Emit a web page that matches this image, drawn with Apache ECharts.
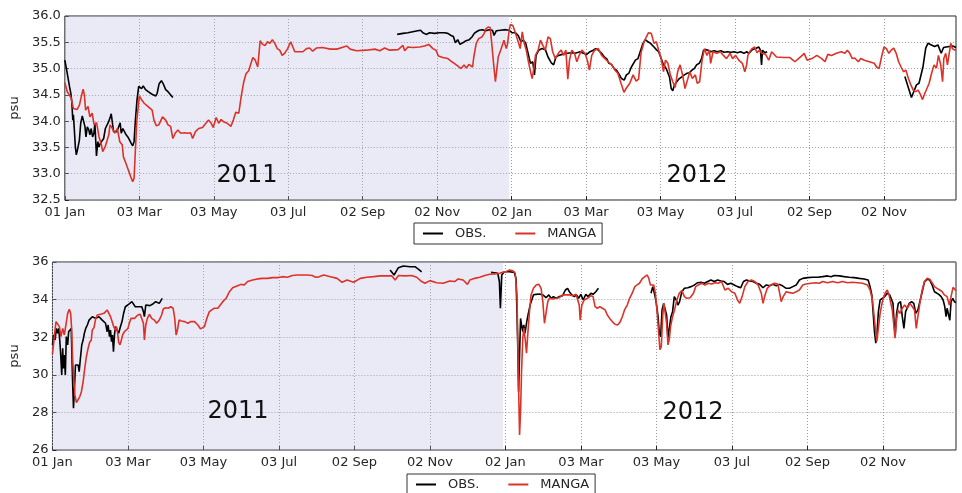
<!DOCTYPE html>
<html>
<head>
<meta charset="utf-8">
<script src="https://cdn.jsdelivr.net/npm/echarts@6/dist/echarts.min.js"></script>
<style>
  html, body { margin: 0; padding: 0; background: #ffffff; }
  #chart { width: 962px; height: 493px; }
</style>
</head>
<body>
<div id="chart"></div>
<script>
// Days counted from 01 Jan 2011; ticks every 61 days.
const tickLabels = ['01 Jan', '03 Mar', '03 May', '03 Jul', '02 Sep', '02 Nov',
                    '02 Jan', '03 Mar', '03 May', '03 Jul', '02 Sep', '02 Nov'];
const tickStep = 61;
const dayMax = 730;
const firstYearEnd = 364;
const yearLabels = ['2011', '2012'];
const seriesNames = ['OBS.', 'MANGA'];

// Upper panel: surface salinity (psu)
const obsTopA = [[0,35.16],[1.3,35.0],[2.7,34.97],[3.8,34.66],[4.9,34.53],[5.7,34.37],[6.5,34.02],[7,34.12],[7.8,33.83],[8.6,33.51],[9.4,33.36],[10.3,33.45],[11,33.42],[11.9,33.64],[13,33.96],[14.3,34.1],[15.7,34.08],[16.5,33.89],[17.3,33.7],[18.4,33.89],[19.7,33.83],[20.5,33.74],[21.6,33.86],[22.7,33.7],[23.8,33.77],[24.6,33.96],[25.4,33.58],[25.9,33.34],[27,33.61],[28,33.51],[29.1,33.58],[30.5,33.55],[31.8,33.67],[33.2,33.86],[34.5,33.89],[35.9,33.99],[37.2,34.08],[38,34.14],[39,33.96],[39.9,33.8],[41.3,33.83],[42.6,33.8],[44,33.8],[45.3,33.97],[46.2,33.77],[47.5,33.86],[48.9,33.83],[50.2,33.74],[51.6,33.7],[52.9,33.67],[54.3,33.58],[55.6,33.53],[56.7,33.61],[57.8,34.02],[59.1,34.4],[60.5,34.66],[61.5,34.64],[62.9,34.62],[64.2,34.67],[66.1,34.6],[68.3,34.56],[70.2,34.53],[72.3,34.5],[74.5,34.48],[75.6,34.53],[77.2,34.71],[79.1,34.77],[80.4,34.72],[82.6,34.6],[84.5,34.56],[86.6,34.5],[88.5,34.45]];
const obsTopB = [[272.2,35.65],[277,35.67],[281,35.68],[285,35.7],[289,35.72],[291.4,35.73],[293.3,35.68],[296,35.65],[298.8,35.68],[302.8,35.67],[306.9,35.68],[311,35.68],[313.7,35.67],[316.4,35.63],[318.3,35.61],[319.9,35.49],[321.8,35.55],[323.7,35.46],[325.9,35.49],[328.6,35.53],[331.3,35.55],[333.5,35.6],[335.4,35.67],[337.2,35.7],[339.4,35.73],[342,35.74],[344.8,35.72],[347.6,35.74],[350.3,35.73],[351.6,35.63],[353.5,35.72],[357,35.73],[361,35.74],[363.8,35.73],[366.5,35.68],[369.2,35.68],[371.4,35.63],[373.6,35.51],[375.5,35.54],[377.4,35.49],[379.5,35.29],[381.4,35.1],[383.3,35.13],[384.7,34.88],[386,35.25],[388.2,35.35],[390.9,35.38],[393.6,35.36],[395.8,35.22],[397.2,35.25],[398.5,35.11],[400.4,35.07],[402.3,35.22],[404.5,35.25],[407.2,35.27],[411.2,35.29],[415.3,35.3],[418,35.29],[422.1,35.32],[424.8,35.29],[427.5,35.27],[430.2,35.32],[432.9,35.35],[434.8,35.38],[437,35.35],[439.7,35.29],[441.9,35.22],[443.8,35.19],[445.7,35.1],[447.8,35.08],[450,35.0],[451.9,34.97],[454.1,34.89],[456,34.81],[458.2,34.78],[460,34.88],[462,34.91],[464.1,35.03],[465.5,35.0],[467.4,35.16],[469.5,35.19],[471.7,35.35],[473.6,35.48],[475.5,35.55],[477.7,35.51],[479.8,35.48],[482.6,35.41],[484.5,35.36],[486.4,35.32],[488.5,35.19],[489.9,35.1],[491.3,35.13],[492.6,35.0],[494,35.03],[495.3,34.84],[496.7,34.62],[498,34.58],[499.4,34.69],[501.3,34.75],[503.4,34.81],[505.3,34.84],[507.5,34.88],[509.7,34.91],[511.6,34.92],[513.7,34.97],[515.6,35.0],[517.5,35.07],[519.7,35.1],[521.6,35.19],[523.2,35.35],[525.1,35.36],[527,35.35],[529.2,35.32],[531.9,35.34],[534.6,35.32],[537.3,35.34],[540,35.31],[542.7,35.32],[545.5,35.31],[548.2,35.32],[550.9,35.3],[553.6,35.32],[556.3,35.29],[558.5,35.32],[560.4,35.29],[563.1,35.36],[565.8,35.38],[568.5,35.41],[569.8,35.35],[570.7,35.07],[571.5,35.35],[573.4,35.3],[575.3,35.32]];
const obsTopC = [[688.1,34.85],[693.5,34.45],[695.4,34.56],[697.6,34.69],[699.7,34.72],[701.7,34.91],[703,35.04],[705.2,35.39],[707,35.48],[709.8,35.45],[712.5,35.42],[715.2,35.45],[717.9,35.29],[719.8,35.4],[722,35.41],[724.7,35.42],[727.4,35.43],[730,35.4]];
const mangaTop = [[0,34.73],[2,34.56],[5,34.45],[7,34.24],[10,34.22],[12,34.31],[13.5,34.47],[15,34.61],[16,34.5],[17,34.21],[19,34.28],[20.5,34.08],[22.4,34.15],[24,33.93],[26,33.97],[28,33.7],[30,33.55],[31,33.42],[33,33.51],[36,33.74],[37,33.93],[39,33.86],[41,33.77],[43,33.86],[45,33.61],[47,33.55],[48,33.32],[50,33.2],[52,33.07],[54,32.94],[55.6,32.85],[56.7,32.91],[57.8,33.45],[59,34.02],[61,34.48],[63,34.4],[65,34.34],[66.4,34.37],[68,34.28],[69.6,34.31],[71.5,34.21],[73,34.02],[75,33.91],[77,33.93],[80,34.08],[82.6,34.02],[84.5,33.93],[86.6,33.9],[88.5,33.67],[90.4,33.77],[92.6,33.83],[95,33.77],[98,33.78],[100.7,33.77],[103,33.78],[104.7,33.67],[107,33.8],[109.6,33.86],[112.8,33.88],[115.5,33.96],[117.7,34.02],[119.6,33.97],[121.5,33.88],[124,34.07],[126,33.96],[128,34.03],[130,33.99],[133,33.96],[136,33.9],[138,34.02],[140,34.17],[142.5,34.15],[144.4,34.46],[146.6,34.75],[148.4,34.9],[150.6,34.96],[152.5,35.1],[154,35.21],[156,35.16],[158,35.03],[160,35.53],[162,35.46],[164,35.44],[166,35.51],[168,35.48],[170,35.55],[172,35.48],[174,35.38],[176,35.35],[178,35.25],[180,35.29],[182.5,35.38],[185,35.51],[186.5,35.51],[188.4,35.32],[191,35.32],[195,35.32],[198,35.38],[200.5,35.39],[203,35.33],[206,35.39],[211,35.4],[217.4,35.37],[222.9,35.37],[228.3,35.41],[231,35.43],[233.7,35.37],[239,35.34],[247,35.35],[254,35.37],[258,35.34],[262,35.39],[266,35.35],[273,35.36],[277,35.44],[278.4,35.34],[281,35.41],[285,35.4],[290.6,35.41],[294.7,35.43],[298,35.46],[301.5,35.38],[304,35.35],[306,35.24],[309.6,35.21],[313.7,35.19],[316.4,35.14],[319,35.1],[321.8,35.05],[324.5,35.0],[327,35.07],[329,35.01],[331,35.08],[334,35.03],[335,35.22],[337,35.48],[339,35.57],[341.6,35.6],[343.5,35.67],[345,35.76],[346.7,35.79],[348.4,35.78],[349.7,35.48],[351.3,35.07],[352.7,34.75],[353.8,34.97],[355,35.22],[357,35.35],[359.7,35.54],[361.6,35.38],[362.7,35.48],[364,35.73],[365,35.84],[367,35.82],[369,35.68],[371.4,35.51],[373,35.38],[374.7,35.7],[376.3,35.48],[378,35.35],[380,35.1],[382.8,34.81],[384.4,35.03],[385.5,35.25],[387.7,35.35],[389.6,35.54],[391.5,35.44],[393.6,35.35],[395.8,35.6],[397.7,35.57],[399.6,35.32],[401.8,35.19],[404.5,35.3],[406.6,35.35],[408.5,35.25],[410.4,35.35],[412,34.8],[413.4,35.16],[415.3,35.35],[417.5,35.29],[419.4,35.13],[421.3,35.25],[423.5,35.35],[426,35.29],[428,35.16],[429.7,34.97],[431.6,35.25],[434,35.35],[437,35.38],[439.7,35.25],[442.4,35.19],[445,35.13],[448,35.07],[450.6,34.97],[453,34.91],[456,34.69],[458,34.55],[460,34.63],[462.8,34.72],[465.5,34.88],[468,34.76],[470,34.8],[472,35.3],[474.5,35.51],[476.3,35.6],[478,35.68],[480.4,35.67],[482.6,35.48],[484.5,35.51],[486.4,35.35],[488.5,35.19],[490.4,34.94],[492,35.16],[494,35.1],[496,34.88],[498,34.75],[500,34.64],[502,34.94],[504,35.07],[506,34.88],[508,34.62],[510,34.78],[512,34.94],[514,34.81],[516.5,34.88],[518,34.72],[520,34.75],[522,35.16],[524,35.38],[526,35.25],[528,35.35],[529,35.1],[531,35.32],[534,35.29],[537,35.32],[539.5,35.25],[542,35.19],[545,35.29],[547,35.19],[549.5,35.25],[552,35.16],[555,35.1],[557,34.94],[558.5,35.07],[559.5,35.25],[561,35.32],[563,35.38],[565,35.41],[567,35.3],[569,35.35],[571,35.29],[574,35.27],[576.6,35.16],[579,35.32],[583,35.22],[589,35.21],[594,35.21],[598,35.13],[601,35.19],[604,35.25],[605.6,35.29],[608,35.16],[612,35.19],[616,35.25],[620,35.19],[622.7,35.13],[625,35.27],[628,35.25],[632,35.29],[636,35.32],[639,35.29],[641,35.35],[643,35.29],[645,35.19],[647,35.2],[650,35.13],[652,35.19],[655,35.16],[659,35.13],[663,35.1],[665,35.03],[667,35.0],[669,35.22],[671,35.41],[673,35.38],[675,35.29],[677,35.35],[679,35.39],[681,35.29],[683,35.13],[685,35.03],[687,34.94],[689,34.97],[691,34.81],[693,34.69],[695,34.59],[697,34.56],[699,34.59],[701,34.5],[702.6,34.41],[704.5,34.53],[706,34.56],[708,34.72],[710,34.91],[712,35.07],[714,35.01],[715.6,35.25],[717.5,35.07],[719,34.75],[720,35.19],[721.6,35.29],[723,35.07],[724,35.22],[725.7,35.48],[727,35.38],[729,35.35],[730,35.36]];

// Lower panel: salinity (psu)
const obsBottomA = [[0,31.59],[1.1,32.12],[2.1,31.85],[3.2,32.47],[4.3,32.21],[5.1,32.47],[5.9,31.85],[6.7,31.05],[7.5,29.99],[8.3,31.41],[8.8,30.34],[9.6,31.05],[10.4,29.99],[11.2,32.03],[12.3,31.59],[13.1,32.29],[14.1,32.38],[15.2,32.47],[16.2,29.81],[17,28.22],[17.8,29.28],[18.6,30.52],[19.7,30.61],[20.8,30.52],[21.6,30.17],[22.6,30.88],[23.7,31.59],[24.8,31.85],[25.8,32.21],[26.9,32.47],[28.2,32.65],[29.6,32.91],[30.9,32.83],[32.2,33.09],[33.6,33.0],[34.9,33.0],[36.2,33.04],[37.6,33.09],[38.9,33.0],[40.2,32.91],[41.6,32.83],[42.9,32.74],[44.2,32.29],[45,32.65],[46.1,32.03],[46.9,32.38],[47.7,31.76],[48.5,32.12],[49.3,31.23],[50.1,32.12],[50.9,32.56],[52.2,32.47],[53.5,32.21],[54.9,32.56],[56.2,32.83],[57.5,33.27],[58.9,33.62],[60.2,33.71],[61.5,33.75],[62.9,33.8],[64.2,33.89],[65.5,33.85],[66.9,33.62],[68.2,33.71],[69.5,33.62],[70.9,33.71],[72.2,33.62],[73.5,33.36],[74.3,33.09],[75.4,33.71],[77,33.75],[78.8,33.68],[80.7,33.75],[82.3,33.71],[83.4,33.89],[85,33.98],[86.3,33.8],[87.6,33.89],[88.7,34.07]];
const obsBottomB = [[272.8,35.57],[276,35.31],[279.5,35.7],[283.5,35.79],[288.9,35.75],[292.9,35.75],[295.6,35.62],[298.3,35.48]];
const obsBottomC = [[354.4,35.45],[357.1,35.43],[359.8,35.4],[361.1,34.95],[361.9,33.54],[363,35.31],[365.1,35.48],[369.1,35.48],[373.1,35.45],[374.5,35.13],[375.3,33.36],[376.1,31.05],[376.6,29.1],[377.4,31.05],[378.2,33.0],[379,32.65],[380,32.3],[380.8,32.65],[381.8,32.21],[383.2,32.83],[384.5,33.27],[385.9,33.71],[387.2,33.8],[388.6,34.25],[390.8,34.28],[393.4,34.3],[396.2,34.25],[398.8,34.1],[401,34.25],[402.9,34.07],[404.7,34.16],[406.9,34.07],[409.5,34.16],[412.2,34.21],[414.4,34.51],[416.2,34.6],[417.6,34.42],[419.7,34.25],[421.6,34.16],[423.4,34.25],[425.1,34.07],[426.9,34.28],[428.8,33.98],[430.9,34.28],[432.8,34.16],[435,34.34],[436.8,34.28],[439,34.42],[441.1,34.6]];
const obsBottomD = [[483.6,34.34],[485,34.69],[486.6,34.25],[487.9,33.8],[489.3,33.09],[490.3,32.21],[491.4,32.03],[492.5,33.45],[493.8,33.8],[495.1,33.71],[496.2,33.18],[497.3,31.95],[498.3,32.03],[499.7,33.09],[501,33.36],[502.4,34.16],[504,33.98],[505.3,33.71],[506.7,33.89],[508.5,34.42],[510.6,34.6],[513.3,34.63],[516,34.69],[518.7,34.78],[521.3,34.9],[524,34.92],[526.7,34.87],[529.4,34.96],[532,35.04],[534.7,34.96],[537.4,35.04],[540.1,34.99],[542.8,34.96],[545.4,34.81],[548.1,34.87],[550.8,34.78],[553.5,34.69],[556.1,34.63],[558.3,34.96],[560.7,35.04],[563.3,34.99],[566,34.96],[568.7,34.87],[571.4,34.81],[574.1,34.63],[576.7,34.78],[579.4,34.74],[582.1,34.81],[584.8,34.74],[587.5,34.81],[590.1,34.72],[592.8,34.6],[595.5,34.6],[598.2,34.69],[600.9,34.78],[603.5,35.04],[606.2,35.13],[610.2,35.17],[614.2,35.19],[618.3,35.19],[622.3,35.22],[626.3,35.26],[629,35.22],[631.7,35.28],[635.7,35.26],[639.7,35.22],[643.7,35.19],[647.8,35.17],[651.8,35.13],[655.8,35.1],[659,35.04],[660.6,34.69],[662,34.25],[663,33.36],[664.1,32.3],[665.2,31.68],[666.2,32.21],[667.3,33.36],[668.7,33.98],[670.5,34.07],[672.4,34.16],[674.5,34.34],[676.4,34.25],[677.7,34.16],[679.1,33.8],[680.1,32.65],[680.9,32.12],[682,33.27],[683.4,33.8],[685.2,33.89],[686.6,33.09],[687.9,32.47],[689.3,33.36],[690.6,33.45],[692.2,33.8],[694.1,33.89],[695.9,33.8],[697.5,33.27],[699.2,33.45],[700.8,33.89],[702.7,34.42],[704.6,34.96],[706.7,35.08],[708.8,35.04],[710.7,34.78],[712.6,34.42],[714.2,34.34],[716.1,34.28],[718,34.16],[719.6,33.98],[720.9,33.63],[722,33.09],[722.8,33.54],[724.1,33.45],[725,32.9],[726,33.89],[727.4,34.07],[728.7,33.89],[730,33.85]];
const mangaBottom = [[0,31.09],[1.1,31.76],[2.1,32.38],[2.9,32.83],[4.3,32.74],[5.6,32.56],[6.9,32.03],[8.3,32.47],[9.6,32.12],[10.9,32.65],[12.3,33.27],[13.6,33.48],[14.7,33.27],[15.5,32.47],[16.2,31.05],[17,29.99],[18.1,28.93],[19.4,28.52],[20.8,28.57],[22.1,28.84],[23.4,29.1],[24.8,29.63],[26.1,30.34],[27.4,30.96],[28.8,31.41],[30.1,31.73],[31.4,31.85],[32.2,32.38],[33.6,32.51],[34.9,32.97],[36.2,33.18],[37.6,33.27],[38.9,33.22],[40.2,33.13],[41.6,33.27],[42.9,33.32],[44.2,33.45],[45.6,33.27],[46.9,33.09],[48.2,32.83],[49.5,32.56],[50.9,32.38],[51.7,32.56],[52.7,32.2],[53.5,31.73],[54.6,31.59],[55.7,31.85],[56.7,32.12],[58.1,32.29],[59.7,32.29],[61,32.47],[62.1,32.74],[63.4,33.0],[64.7,33.09],[66.3,33.0],[67.7,33.09],[69,33.18],[70.9,33.22],[72.2,33.18],[73.5,32.74],[74.3,31.85],[75.4,32.65],[76.7,33.0],[78.3,33.22],[80.2,33.0],[82.3,32.91],[84.2,32.74],[86.3,32.91],[88.2,33.18],[89.5,33.5],[91.4,33.57],[93.5,33.54],[95.6,33.62],[97.5,33.54],[98.8,33.0],[99.9,32.12],[101,32.38],[102.3,32.91],[104.2,32.86],[106.8,32.83],[109.5,32.74],[111.6,32.83],[114.8,32.83],[117.5,32.65],[119.6,32.44],[121,32.38],[122.8,32.56],[124.7,33.0],[126.8,33.36],[128.7,33.45],[130.8,33.54],[133.6,33.54],[137.6,33.89],[140.3,34.07],[143,34.42],[145.6,34.63],[149.6,34.74],[152.3,34.81],[155,34.78],[157.7,34.96],[161.7,35.04],[165.7,35.1],[169.8,35.13],[173.8,35.13],[177.8,35.17],[181.8,35.17],[185.8,35.22],[189.8,35.19],[193.8,35.28],[197.8,35.31],[201.8,35.31],[205.9,35.31],[209.9,35.28],[212.6,35.19],[215.3,35.21],[219.3,35.31],[224.6,35.22],[230,35.13],[234,34.92],[238,35.04],[243.4,34.92],[248.7,35.13],[254,35.19],[259.5,35.22],[264.8,35.26],[270.2,35.26],[274.2,35.26],[276.9,35.04],[279.6,35.28],[285,35.26],[290.3,35.28],[294.3,35.19],[298.3,34.96],[301,34.87],[305,35.01],[310.4,34.9],[315.7,34.87],[321,34.99],[325,34.96],[327.8,35.1],[331.8,35.04],[335.3,34.81],[337.2,35.04],[341.2,35.13],[345.2,35.19],[349.3,35.28],[353.3,35.35],[357.3,35.37],[361.3,35.4],[364,35.46],[366.7,35.49],[369.4,35.58],[372,35.53],[373.9,35.4],[375.3,34.25],[376,31.6],[376.9,28.4],[377.4,26.8],[378.2,28.05],[379,30.18],[380,31.95],[380.9,32.5],[382,31.86],[383,31.15],[384,32.12],[385.4,33.36],[386.7,34.25],[388.6,34.6],[390.8,34.78],[393,34.81],[394.8,34.6],[396.2,33.89],[397.5,32.74],[398.8,32.65],[400.2,33.89],[401.5,34.07],[404.2,34.03],[406.9,34.07],[409.5,34.1],[412.2,34.25],[414.9,34.25],[417.6,34.25],[420.3,34.21],[423,34.28],[425.6,33.71],[426.4,32.91],[427.7,33.71],[429.6,33.98],[432.3,34.07],[435,34.21],[436.8,34.16],[438.4,33.63],[440.3,33.54],[442.2,33.63],[444.3,33.54],[446.5,33.45],[448.3,33.18],[450.2,33.0],[452.3,32.83],[454.5,32.69],[456.6,32.65],[458.5,32.79],[460.4,33.09],[462.2,33.45],[464.4,33.71],[466.3,34.07],[468.4,34.34],[470.5,34.69],[472.4,34.78],[474.3,34.87],[476.4,35.1],[478.6,35.22],[480.5,35.31],[481.8,35.13],[483.1,34.78],[484.4,34.87],[485.8,34.78],[487.1,34.34],[488.4,33.45],[489.8,32.21],[490.8,31.33],[491.9,31.5],[493,33.09],[494,33.8],[495.1,33.89],[496.2,32.74],[497.3,31.59],[498.3,31.86],[499.4,32.56],[501,33.09],[502.6,33.45],[504.5,33.98],[506.4,34.34],[508.5,34.48],[510.6,34.16],[512.5,34.07],[515.2,34.1],[517.9,34.34],[519.7,34.69],[521.9,34.78],[524.5,34.87],[527.2,34.78],[529.9,34.87],[532.6,34.83],[535.3,34.9],[537.9,34.87],[540.6,34.96],[543.3,34.51],[546,34.6],[548.6,34.42],[551.3,34.34],[553.5,33.98],[555.3,33.8],[557.2,34.16],[559.4,34.69],[562,34.96],[564.7,35.04],[567.4,34.96],[570.1,34.78],[572.7,34.34],[574.1,33.8],[575.4,34.16],[577.5,34.6],[580.2,34.78],[583.4,34.87],[586.1,34.83],[587.5,34.34],[588.8,33.89],[590.4,34.16],[592.8,34.42],[595.5,34.37],[598.2,34.34],[600.9,34.42],[603.5,34.51],[606.2,34.78],[608.9,34.83],[612.9,34.87],[616.9,34.9],[619.6,34.87],[622.3,34.96],[626.3,34.9],[630.3,34.96],[634.4,34.9],[638.4,34.96],[642.4,34.9],[646.4,34.92],[650.4,34.9],[654.5,34.87],[658.5,34.78],[660.6,34.51],[662.5,33.98],[663.9,33.09],[665.2,32.21],[666,31.77],[667.1,32.38],[668.7,33.27],[670.5,33.89],[672.7,34.34],[674.5,34.51],[675.9,34.25],[677.2,34.16],[678.5,33.45],[679.9,32.56],[680.7,31.95],[681.8,32.83],[683.1,33.45],[684.7,33.27],[686.6,33.54],[688.5,33.71],[690.6,33.54],[692.8,33.8],[694.6,33.63],[696.5,33.45],[697.9,32.47],[699.2,33.09],[700.8,33.8],[702.7,34.51],[704.6,34.96],[706.7,35.13],[708.8,35.08],[710.7,34.9],[712.6,34.69],[714.7,34.6],[716.9,34.51],[718.8,34.42],[720.6,34.25],[722.8,34.16],[724.6,33.71],[726.3,34.25],[727.6,34.65],[729.5,34.51],[730,34.47]];

// Stitch observation segments with empty points so the line breaks between them.
function withGaps(segments) {
  const out = [];
  segments.forEach((seg, i) => {
    if (i > 0) out.push([(segments[i - 1][segments[i - 1].length - 1][0] + seg[0][0]) / 2, '-']);
    seg.forEach(p => out.push(p));
  });
  return out;
}

const FONT = 'DejaVu Sans';
const TEXT = '#262626';
const RED = '#dc3228';

function xAxisFor(gridIndex) {
  return {
    type: 'value', gridIndex, min: 0, max: dayMax, interval: tickStep,
    axisLine: { show: false },
    axisTick: { show: true, inside: true, length: 4, lineStyle: { color: '#222' } },
    splitLine: { show: true, lineStyle: { color: '#9a9a9a', type: [1, 2], width: 1 } },
    axisLabel: {
      margin: 6, fontFamily: FONT, fontSize: 13, color: TEXT, showMaxLabel: false,
      formatter: v => (v % tickStep === 0 ? (tickLabels[v / tickStep] || '') : '')
    }
  };
}
function yAxisFor(gridIndex, min, max, interval, digits, gap) {
  return {
    type: 'value', gridIndex, min, max, interval,
    name: 'psu', nameLocation: 'middle', nameRotate: 90, nameGap: gap,
    nameTextStyle: { fontFamily: FONT, fontSize: 13, color: TEXT },
    axisLine: { show: false },
    axisTick: { show: true, inside: true, length: 4, lineStyle: { color: '#222' } },
    splitLine: { show: true, lineStyle: { color: '#9a9a9a', type: [1, 2], width: 1 } },
    axisLabel: { margin: 4, fontFamily: FONT, fontSize: 13, color: TEXT,
                 formatter: v => v.toFixed(digits) }
  };
}
function shade(axisIndex) {
  return {
    type: 'line', name: 'year-shade', xAxisIndex: axisIndex, yAxisIndex: axisIndex,
    data: [], z: 1, silent: true,
    markArea: { silent: true, itemStyle: { color: 'rgba(185,185,228,0.3)' },
                data: [[{ xAxis: 0 }, { xAxis: firstYearEnd }]] }
  };
}
function line(name, data, color, axisIndex) {
  return {
    type: 'line', name, data, xAxisIndex: axisIndex, yAxisIndex: axisIndex,
    showSymbol: false, symbol: 'none', connectNulls: false, z: 3,
    lineStyle: { color, width: 1.6 }, itemStyle: { color }, animation: false
  };
}
function legendAt(left, top) {
  return {
    data: seriesNames, left, top, orient: 'horizontal',
    icon: 'rect', itemWidth: 20, itemHeight: 2, itemGap: 29,
    padding: [4, 6, 4, 9], borderColor: '#333', borderWidth: 1, borderRadius: 0,
    backgroundColor: '#fff',
    textStyle: { fontFamily: FONT, fontSize: 13, color: TEXT, padding: [0, 0, 0, 7] },
    selectedMode: false
  };
}
function yearText(text, x, y) {
  return { type: 'text', x, y, z: 10, silent: true,
           style: { text, fontFamily: FONT, fontSize: 24, fill: '#111',
                    align: 'center', verticalAlign: 'middle' } };
}

const chart = echarts.init(document.getElementById('chart'), null, { renderer: 'canvas' });
chart.setOption({
  animation: false,
  backgroundColor: '#ffffff',
  grid: [
    { left: 59, right: 6, top: 16, bottom: 293, show: true, borderColor: '#222', borderWidth: 1, backgroundColor: 'transparent' },
    { left: 47, right: 6, top: 262, bottom: 43, show: true, borderColor: '#222', borderWidth: 1, backgroundColor: 'transparent' }
  ],
  xAxis: [xAxisFor(0), xAxisFor(1)],
  yAxis: [yAxisFor(0, 32.5, 36, 0.5, 1, 42), yAxisFor(1, 26, 36, 2, 0, 29)],
  legend: [legendAt(414, 223), legendAt(407, 474)],
  series: [
    shade(0),
    line(seriesNames[0], withGaps([obsTopA, obsTopB, obsTopC]), '#000000', 0),
    line(seriesNames[1], mangaTop, RED, 0),
    shade(1),
    line(seriesNames[0], withGaps([obsBottomA, obsBottomB, obsBottomC, obsBottomD]), '#000000', 1),
    line(seriesNames[1], mangaBottom, RED, 1)
  ],
  graphic: [
    yearText(yearLabels[0], 247, 176),
    yearText(yearLabels[1], 697, 176),
    yearText(yearLabels[0], 238, 412),
    yearText(yearLabels[1], 693, 413)
  ]
});
</script>
</body>
</html>
